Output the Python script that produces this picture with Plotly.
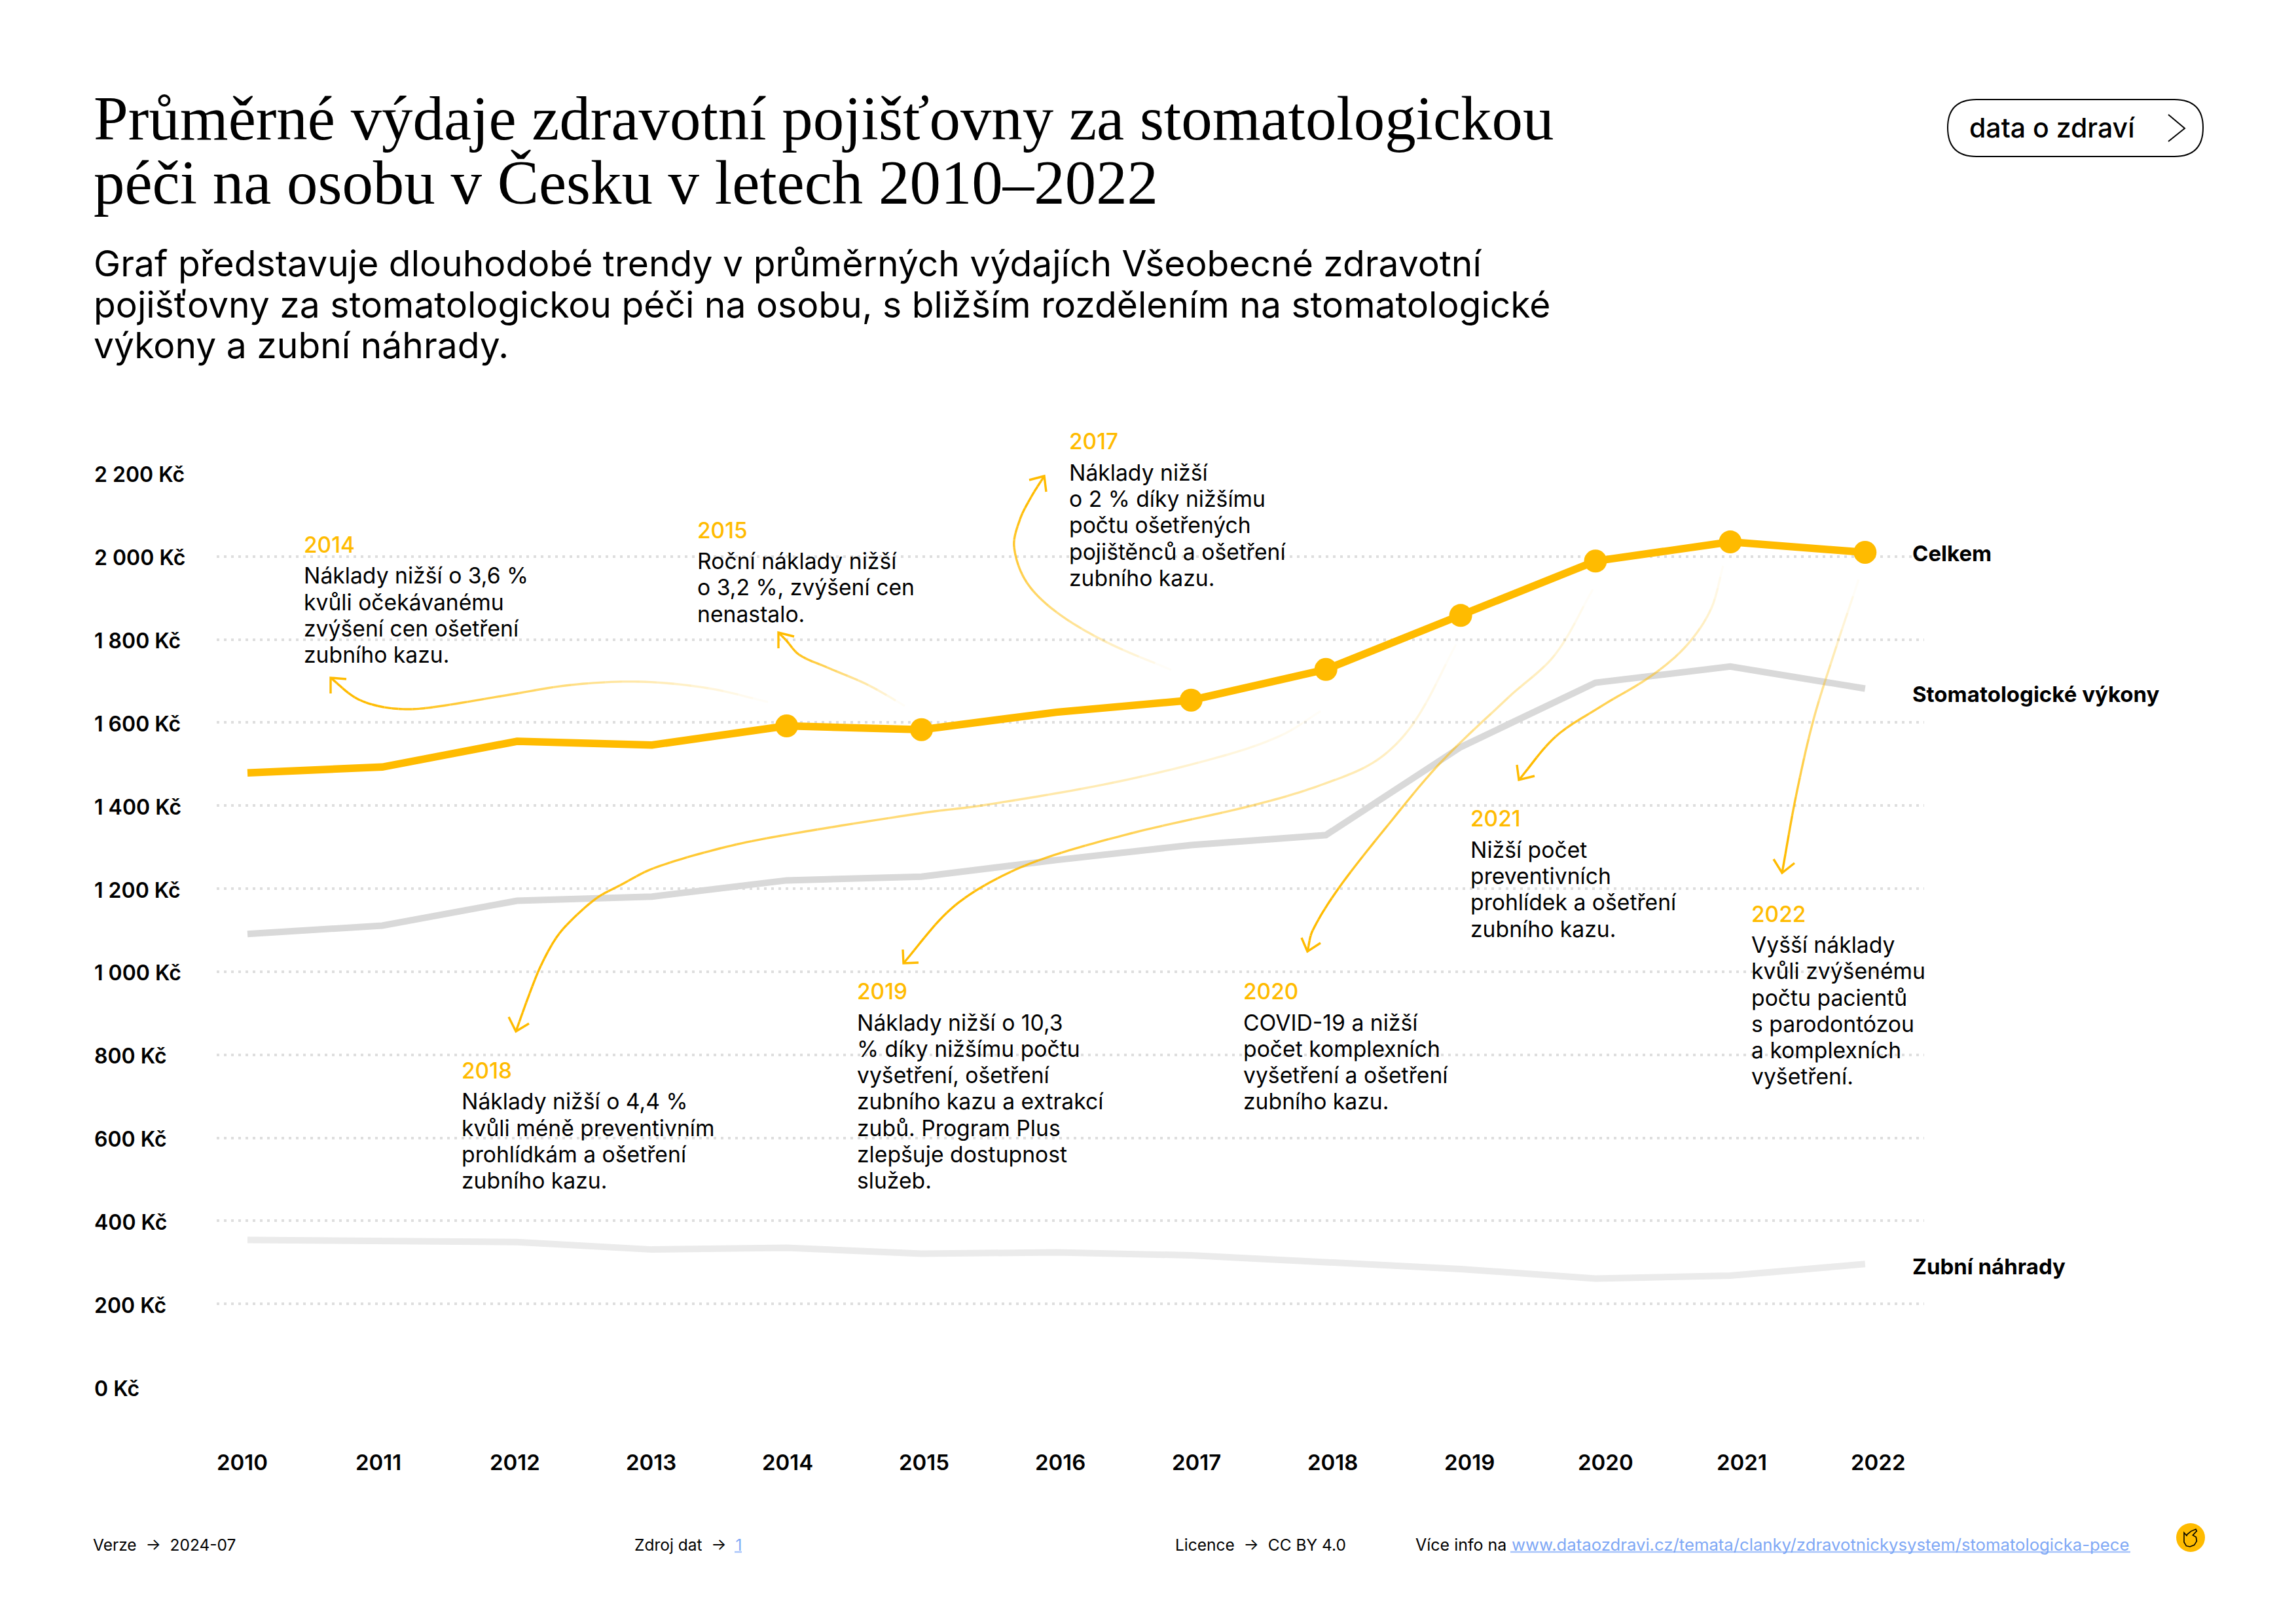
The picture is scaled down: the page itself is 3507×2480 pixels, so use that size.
import plotly.graph_objects as go

# ---------- data ----------
years = [2010, 2011, 2012, 2013, 2014, 2015, 2016, 2017, 2018, 2019, 2020, 2021, 2022]
celkem = [1479, 1493, 1555, 1546, 1592, 1583, 1625, 1654, 1728, 1858, 1989, 2035, 2010]
vykony = [1091, 1111, 1171, 1181, 1220, 1229, 1269, 1305, 1329, 1541, 1696, 1735, 1682]
nahrady = [354, 351, 349, 331, 335, 321, 324, 317, 300, 284, 261, 268, 296]
highlight_years = [2014, 2015, 2017, 2018, 2019, 2020, 2021, 2022]
y_ticks = [0, 200, 400, 600, 800, 1000, 1200, 1400, 1600, 1800, 2000, 2200]
y_tick_labels = ["0 Kč", "200 Kč", "400 Kč", "600 Kč", "800 Kč", "1 000 Kč", "1 200 Kč",
                 "1 400 Kč", "1 600 Kč", "1 800 Kč", "2 000 Kč", "2 200 Kč"]
title_lines = ["Průměrné výdaje zdravotní pojišťovny za stomatologickou",
               "péči na osobu v Česku v letech 2010–2022"]
subtitle_lines = ["Graf představuje dlouhodobé trendy v průměrných výdajích Všeobecné zdravotní",
                  "pojišťovny za stomatologickou péči na osobu, s bližším rozdělením na stomatologické",
                  "výkony a zubní náhrady."]
callout_years = ["2014", "2015", "2017", "2018", "2019", "2020", "2021", "2022"]
callout_texts = [
    ["Náklady nižší o 3,6 %", "kvůli očekávanému", "zvýšení cen ošetření", "zubního kazu."],
    ["Roční náklady nižší", "o 3,2 %, zvýšení cen", "nenastalo."],
    ["Náklady nižší", "o 2 % díky nižšímu", "počtu ošetřených", "pojištěnců a ošetření", "zubního kazu."],
    ["Náklady nižší o 4,4 %", "kvůli méně preventivním", "prohlídkám a ošetření", "zubního kazu."],
    ["Náklady nižší o 10,3", "% díky nižšímu počtu", "vyšetření, ošetření", "zubního kazu a extrakcí",
     "zubů. Program Plus", "zlepšuje dostupnost", "služeb."],
    ["COVID-19 a nižší", "počet komplexních", "vyšetření a ošetření", "zubního kazu."],
    ["Nižší počet", "preventivních", "prohlídek a ošetření", "zubního kazu."],
    ["Vyšší náklady", "kvůli zvýšenému", "počtu pacientů", "s parodontózou", "a komplexních", "vyšetření."],
]

# ---------- layout constants (pixels of the 3507x2480 page) ----------
W, H = 3507, 2480
ORANGE = "#FFBB00"
BODY = "Inter"
SERIF = "Liberation Serif"
S = 3507 / 1568
X0, X1, Y0, Y1 = 331, 2939, 2118, 723   # plot box
XFIRST, XSTEP = 378, 205.9


def px(x):
    return x / W


def py(y):
    return 1 - y / H


annotations = []
shapes = []


def text(x, y, s, size, color="#000000", weight=400, family=BODY, anchor="left"):
    annotations.append(dict(xref="paper", yref="paper", x=px(x), y=py(y), text=s, showarrow=False,
                            xanchor=anchor, yanchor="middle", align=anchor, borderpad=0,
                            font=dict(family=family, size=size, color=color, weight=weight)))


# title / subtitle
for ln, yy in zip(title_lines, [181, 279]):
    text(142, yy, ln, 94.9, family=SERIF)
for ln, yy in zip(subtitle_lines, [402, 465, 527]):
    text(142, yy, ln, 55.2)

# button
shapes.append(dict(type="path", xref="paper", yref="paper",
                   path="M %f %f L %f %f Q %f %f %f %f Q %f %f %f %f L %f %f Q %f %f %f %f Q %f %f %f %f Z" % (
                       px(3019), py(152), px(3321), py(152),
                       px(3365), py(152), px(3365), py(195),
                       px(3365), py(239), px(3321), py(239),
                       px(3019), py(239),
                       px(2975), py(239), px(2975), py(195),
                       px(2975), py(152), px(3019), py(152)),
                   line=dict(color="#000000", width=2)))
shapes.append(dict(type="path", xref="paper", yref="paper",
                   path="M %f %f L %f %f L %f %f" % (px(3312), py(175), px(3337), py(196), px(3312), py(216)),
                   line=dict(color="#000000", width=2)))
text(3007, 195, "data o zdraví", 41, weight=500)

# y tick labels placed left aligned through the y axis
for v, lab in zip(y_ticks, y_tick_labels):
    annotations.append(dict(xref="paper", yref="y", x=px(142), y=v, yshift=-2, text=lab, showarrow=False,
                            xanchor="left", yanchor="middle",
                            font=dict(family=BODY, size=32, color="#000000", weight=600)))
# x tick labels
for i, yr in enumerate(years):
    text((165.5 + i * 93.1) * S, 998.5 * S, str(yr), 33, weight=600, anchor="center")

# series labels
text(1305.5 * S, 378 * S, "Celkem", 33, weight=700)
text(1305.5 * S, 474 * S, "Stomatologické výkony", 33, weight=700)
text(1305.5 * S, 864.5 * S, "Zubní náhrady", 33, weight=700)

# callouts
callout_pos = [(207.5, 372), (476, 362), (730, 301.5), (315, 731), (585, 677), (849, 677), (1004, 559), (1196, 624)]
for yr, lines, (cx, cy) in zip(callout_years, callout_texts, callout_pos):
    text((cx - 0.4) * S, cy * S, yr, 33.4, color=ORANGE, weight=500)
    for j, ln in enumerate(lines):
        text((cx - 0.4) * S, (cy + 21 + 18 * j) * S, ln, 33.7)

# footer
LINK = "#7FA8F5"
FY = 1054.7 * S
text(63 * S, FY, "Verze  →  2024-07", 24.5)
text(433 * S, FY, "Zdroj dat  →  <span style='color:%s'>1</span>" % LINK, 24.5)
text(802 * S, FY, "Licence  →  CC BY 4.0", 24.5)
text(966 * S, FY, "Více info na", 25)
text(1032 * S, FY, "www.dataozdravi.cz/temata/clanky/zdravotnickysystem/stomatologicka-pece", 25.7, color=LINK)
for a, b in [(2307, 3254), (1122, 1133)]:
    shapes.append(dict(type="line", xref="paper", yref="paper", x0=px(a), x1=px(b), y0=py(2370), y1=py(2370),
                       line=dict(color="#A9C5FB", width=2.5)))

# logo
shapes.append(dict(type="circle", xref="paper", yref="paper", x0=px(3324), x1=px(3368), y0=py(2370), y1=py(2326),
                   fillcolor=ORANGE, line=dict(width=0)))
hand = [(78, 92), (90, 105), (92, 100), (110, 85), (132, 76), (136, 84), (118, 103), (133, 112), (136, 130),
        (125, 148), (105, 156), (88, 152), (78, 135)]
shapes.append(dict(type="path", xref="paper", yref="paper",
                   path="M " + " L ".join("%f %f" % (px(3310 + a / 3), py(2310 + b / 3)) for a, b in hand) + " Z",
                   line=dict(color="#000000", width=1.6)))

# curved fading callout arrows: way-points from faint start to head, then head legs
arrows = [
    ([(1173, 1072), (1082, 1051), (977, 1041), (872, 1046), (766, 1063), (661, 1080), (619, 1083), (577, 1078),
      (542, 1065), (505, 1035)], (505, 1059), (529, 1037)),
    ([(1382, 1078), (1326, 1046), (1263, 1019), (1221, 1000), (1200, 977), (1189, 966)], (1189, 990), (1213, 972)),
    ([(1789, 1023), (1691, 981), (1614, 935), (1568, 889), (1549, 835), (1558, 793), (1575, 759), (1595, 727)],
     (1572, 733), (1598, 751)),
    ([(2017, 1086), (1959, 1122), (1873, 1153), (1701, 1195), (1500, 1230), (1412, 1241), (1194, 1276), (1102, 1295),
      (998, 1326), (947, 1352), (912, 1371), (872, 1406), (849, 1433), (826, 1475), (809, 1517), (788, 1575)],
     (777, 1553), (808, 1563)),
    ([(2224, 984), (2160, 1103), (2103, 1161), (2017, 1199), (1913, 1230), (1730, 1272), (1586, 1314), (1504, 1352),
      (1446, 1394), (1380, 1471)], (1379, 1450), (1403, 1470)),
    ([(2433, 900), (2375, 1000), (2304, 1065), (2200, 1165), (2120, 1260), (2045, 1356), (2005, 1421), (1997, 1453)],
     (1988, 1432), (2017, 1440)),
    ([(2632, 864), (2613, 931), (2575, 987), (2521, 1033), (2445, 1079), (2376, 1125), (2320, 1191)],
     (2317, 1168), (2344, 1185)),
    ([(2839, 885), (2805, 987), (2770, 1099), (2743, 1217), (2722, 1333)], (2709, 1312), (2741, 1318)),
]


def smooth(pts, n=12):
    """Chord-length Hermite spline through way-points."""
    m = len(pts)
    dist = [((pts[i + 1][0] - pts[i][0]) ** 2 + (pts[i + 1][1] - pts[i][1]) ** 2) ** 0.5 for i in range(m - 1)]
    tan = []
    for i in range(m):
        if i == 0:
            tan.append(((pts[1][0] - pts[0][0]) / dist[0], (pts[1][1] - pts[0][1]) / dist[0]))
        elif i == m - 1:
            tan.append(((pts[-1][0] - pts[-2][0]) / dist[-1], (pts[-1][1] - pts[-2][1]) / dist[-1]))
        else:
            d = dist[i - 1] + dist[i]
            tan.append(((pts[i + 1][0] - pts[i - 1][0]) / d, (pts[i + 1][1] - pts[i - 1][1]) / d))
    out = []
    for i in range(m - 1):
        p0, p1, t0, t1, d = pts[i], pts[i + 1], tan[i], tan[i + 1], dist[i]
        for k in range(n):
            t = k / n
            h00 = 2 * t ** 3 - 3 * t ** 2 + 1
            h10 = t ** 3 - 2 * t ** 2 + t
            h01 = -2 * t ** 3 + 3 * t ** 2
            h11 = t ** 3 - t ** 2
            out.append(tuple(h00 * p0[c] + h10 * d * t0[c] + h01 * p1[c] + h11 * d * t1[c] for c in (0, 1)))
    out.append(pts[-1])
    return out


for pts, leg1, leg2 in arrows:
    c = smooth(pts)
    cum = [0.0]
    for a, b in zip(c, c[1:]):
        cum.append(cum[-1] + ((a[0] - b[0]) ** 2 + (a[1] - b[1]) ** 2) ** 0.5)
    n = len(c) - 1
    step = 3
    for i in range(0, n, step):
        seg = c[i:i + step + 1]
        a = min(1.0, (cum[i] / cum[-1]) * 1.1 + 0.03)
        shapes.append(dict(type="path", xref="paper", yref="paper", layer="above",
                           path="M " + " L ".join("%f %f" % (px(p[0]), py(p[1])) for p in seg),
                           line=dict(color="rgba(255,187,0,%.3f)" % a, width=3.4)))
    tip = pts[-1]
    shapes.append(dict(type="path", xref="paper", yref="paper", layer="above",
                       path="M %f %f L %f %f L %f %f" % (px(leg1[0]), py(leg1[1]), px(tip[0]), py(tip[1]),
                                                        px(leg2[0]), py(leg2[1])),
                       line=dict(color=ORANGE, width=3.4)))

# ---------- figure ----------
fig = go.Figure()
fig.add_trace(go.Scatter(x=years, y=nahrady, name="Zubní náhrady", mode="lines",
                         line=dict(color="#EBEBEB", width=10)))
fig.add_trace(go.Scatter(x=years, y=vykony, name="Stomatologické výkony", mode="lines",
                         line=dict(color="#D9D9D9", width=10)))
fig.add_trace(go.Scatter(x=years, y=celkem, name="Celkem", mode="lines",
                         line=dict(color=ORANGE, width=11.5)))
fig.add_trace(go.Scatter(x=[y for y in years if y in highlight_years],
                         y=[v for y, v in zip(years, celkem) if y in highlight_years],
                         name="Celkem (komentované roky)", mode="markers",
                         marker=dict(color=ORANGE, size=35, line=dict(width=0))))

fig.update_layout(
    width=W, height=H, autosize=False, margin=dict(l=0, r=0, t=0, b=0, pad=0),
    paper_bgcolor="#FFFFFF", plot_bgcolor="#FFFFFF", showlegend=False,
    annotations=annotations, shapes=shapes,
    xaxis=dict(domain=[px(X0), px(X1)], range=[2010 + (X0 - XFIRST) / XSTEP, 2010 + (X1 - XFIRST) / XSTEP],
               showgrid=False, zeroline=False, showticklabels=False, ticks="", showline=False),
    yaxis=dict(domain=[py(Y0), py(Y1)], range=[0, 2200], tickvals=y_ticks, showticklabels=False, ticks="",
               showgrid=True, gridcolor="#DEDEDE", gridwidth=3.5, griddash="3.5px,7.5px", zeroline=False, showline=False),
)
fig.write_html("out.html", config=dict(displayModeBar=False), post_script="document.body.style.margin='0';")
